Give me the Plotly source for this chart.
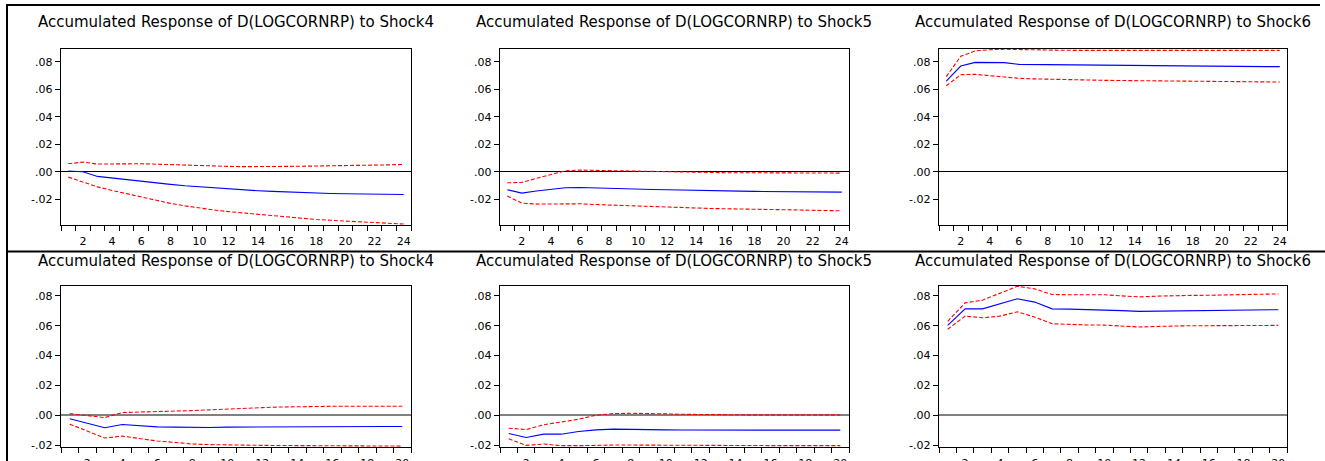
import plotly.graph_objects as go

W, H = 1325, 461

# ---------------- data ----------------
periods_top = list(range(1, 25))
periods_bot = list(range(1, 21))

titles = [
    "Accumulated Response of D(LOGCORNRP) to Shock4",
    "Accumulated Response of D(LOGCORNRP) to Shock5",
    "Accumulated Response of D(LOGCORNRP) to Shock6",
]

# top row (24 periods)
s4_top_resp = [0.0005, 0.0, -0.0034, -0.0046, -0.0058, -0.0073, -0.0083, -0.0092, -0.0102, -0.011, -0.0119, -0.0126,
               -0.0132, -0.0138, -0.0143, -0.0148, -0.0152, -0.0155, -0.0158, -0.016, -0.0161, -0.0162, -0.0164, -0.0165]
s4_top_up = [0.0058, 0.007, 0.0056, 0.0058, 0.0058, 0.0058, 0.0055, 0.0051, 0.0047, 0.0044, 0.0041, 0.0039,
             0.0037, 0.0036, 0.0037, 0.0039, 0.004, 0.0041, 0.0044, 0.0046, 0.0047, 0.0048, 0.005, 0.0053]
s4_top_lo = [-0.0039, -0.0075, -0.011, -0.0136, -0.016, -0.0187, -0.0209, -0.023, -0.0248, -0.0264, -0.0278, -0.029,
             -0.03, -0.031, -0.032, -0.033, -0.0339, -0.0347, -0.0353, -0.0359, -0.0365, -0.037, -0.0375, -0.038]

s5_top_resp = [-0.0131, -0.0155, -0.014, -0.0126, -0.0116, -0.0114, -0.0118, -0.0121, -0.0124, -0.0126, -0.0129, -0.0131,
               -0.0134, -0.0136, -0.0137, -0.0138, -0.0141, -0.0143, -0.0144, -0.0145, -0.0147, -0.0148, -0.0148, -0.0148]
s5_top_up = [-0.008, -0.0078, -0.0048, -0.0019, 0.0007, 0.0012, 0.001, 0.0005, 0.0002, 0.0, -0.0001, -0.0002,
             -0.0004, -0.0005, -0.0006, -0.0007, -0.0007, -0.0007, -0.0009, -0.001, -0.001, -0.001, -0.001, -0.001]
s5_top_lo = [-0.0177, -0.0228, -0.0235, -0.0233, -0.023, -0.0233, -0.0238, -0.0242, -0.0247, -0.0252, -0.0256, -0.0259,
             -0.0262, -0.0264, -0.0267, -0.0269, -0.0272, -0.0274, -0.0275, -0.0276, -0.0278, -0.0279, -0.0282, -0.0284]

s6_top_resp = [0.0659, 0.0768, 0.0795, 0.0795, 0.0793, 0.078, 0.0779, 0.0778, 0.0775, 0.0773, 0.0772, 0.0771,
               0.0769, 0.0768, 0.0767, 0.0766, 0.0766, 0.0766, 0.0765, 0.0764, 0.0764, 0.0764, 0.0764, 0.0764]
s6_top_up = [0.0691, 0.0839, 0.0878, 0.0887, 0.089, 0.0887, 0.0886, 0.0885, 0.0883, 0.0882, 0.0882, 0.0882,
             0.0882, 0.0882, 0.0882, 0.0882, 0.0882, 0.0882, 0.0882, 0.0882, 0.0882, 0.0882, 0.0882, 0.0882]
s6_top_lo = [0.0625, 0.0705, 0.0708, 0.0698, 0.0691, 0.0679, 0.0675, 0.0672, 0.0669, 0.0667, 0.0665, 0.0664,
             0.0663, 0.0662, 0.066, 0.0659, 0.0658, 0.0657, 0.0656, 0.0655, 0.0654, 0.0652, 0.0652, 0.0652]

# bottom row (20 periods)
s4_bot_resp = [-0.0024, -0.0053, -0.0084, -0.0062, -0.0071, -0.0078, -0.008, -0.0082, -0.0082, -0.008,
               -0.0079, -0.0078, -0.0077, -0.0076, -0.0076, -0.0076, -0.0076, -0.0076, -0.0076, -0.0076]
s4_bot_up = [0.0011, 0.0, -0.0016, 0.0018, 0.002, 0.0022, 0.0027, 0.0031, 0.0036, 0.0042,
             0.0047, 0.0051, 0.0055, 0.0058, 0.0059, 0.006, 0.006, 0.006, 0.006, 0.006]
s4_bot_lo = [-0.006, -0.0109, -0.0153, -0.014, -0.0156, -0.0173, -0.0182, -0.0193, -0.0197, -0.02,
             -0.0201, -0.0202, -0.0203, -0.0204, -0.0204, -0.0204, -0.0206, -0.0207, -0.0207, -0.0207]

s5_bot_resp = [-0.0122, -0.0149, -0.0127, -0.0127, -0.0109, -0.0098, -0.0093, -0.0096, -0.0097, -0.0098,
               -0.0099, -0.01, -0.01, -0.01, -0.01, -0.01, -0.01, -0.01, -0.01, -0.01]
s5_bot_up = [-0.0087, -0.0096, -0.0064, -0.0047, -0.0027, 0.0, 0.0011, 0.0013, 0.0013, 0.0009,
             0.0006, 0.0004, 0.0003, 0.0002, 0.0002, 0.0002, 0.0002, 0.0002, 0.0002, 0.0002]
s5_bot_lo = [-0.0158, -0.0202, -0.0193, -0.0204, -0.0204, -0.02, -0.02, -0.02, -0.0201, -0.0202,
             -0.0203, -0.0204, -0.0204, -0.0204, -0.0204, -0.0204, -0.0204, -0.0204, -0.0204, -0.0204]

s6_bot_resp = [0.0602, 0.0713, 0.0713, 0.0744, 0.078, 0.0758, 0.0713, 0.0711, 0.0709, 0.0707,
               0.0701, 0.0696, 0.0698, 0.07, 0.0701, 0.0702, 0.0703, 0.0704, 0.0705, 0.0707]
s6_bot_up = [0.0629, 0.0753, 0.0771, 0.0816, 0.0864, 0.0847, 0.0809, 0.0807, 0.0807, 0.0807,
             0.08, 0.0793, 0.0798, 0.0802, 0.0803, 0.0804, 0.0806, 0.0809, 0.0811, 0.0813]
s6_bot_lo = [0.0576, 0.0664, 0.0653, 0.0664, 0.0693, 0.0658, 0.0613, 0.0607, 0.0605, 0.0604,
             0.0597, 0.0591, 0.0595, 0.06, 0.06, 0.06, 0.0601, 0.0602, 0.0602, 0.0602]

y_tickvals = [-0.02, 0.0, 0.02, 0.04, 0.06, 0.08]
y_ticktext = ["-.02", ".00", ".02", ".04", ".06", ".08"]
x_tickvals_top = [2, 4, 6, 8, 10, 12, 14, 16, 18, 20, 22, 24]
x_tickvals_bot = [2, 4, 6, 8, 10, 12, 14, 16, 18, 20]

# ---------------- layout geometry (pixels) ----------------
cols = [(61, 411), (500, 849), (939, 1287)]
rows = [(49, 225), (286, 447)]
yranges = [(-0.0387, 0.0892), (-0.0213, 0.0866)]

FONT = "DejaVu Sans"

fig = go.Figure()
layout = dict(width=W, height=H, margin=dict(l=0, r=0, t=0, b=0, autoexpand=False),
              paper_bgcolor="white", plot_bgcolor="white", showlegend=False)

panels = [
    (0, 0, periods_top, s4_top_resp, s4_top_up, s4_top_lo, x_tickvals_top, 24),
    (0, 1, periods_top, s5_top_resp, s5_top_up, s5_top_lo, x_tickvals_top, 24),
    (0, 2, periods_top, s6_top_resp, s6_top_up, s6_top_lo, x_tickvals_top, 24),
    (1, 0, periods_bot, s4_bot_resp, s4_bot_up, s4_bot_lo, x_tickvals_bot, 20),
    (1, 1, periods_bot, s5_bot_resp, s5_bot_up, s5_bot_lo, x_tickvals_bot, 20),
    (1, 2, periods_bot, s6_bot_resp, s6_bot_up, s6_bot_lo, x_tickvals_bot, 20),
]

annotations = []
for k, (r, c, xs, resp, up, lo, xt, n) in enumerate(panels):
    idx = k + 1
    xa = "x" if idx == 1 else f"x{idx}"
    ya = "y" if idx == 1 else f"y{idx}"
    x0, x1 = cols[c]
    y0, y1 = rows[r]
    for vals, color, dash in ((up, "#FF0000", "4px,2px"), (lo, "#FF0000", "4px,2px"), (resp, "#0000FF", "solid")):
        fig.add_trace(go.Scatter(x=xs, y=vals, mode="lines", xaxis=xa, yaxis=ya,
                                 line=dict(color=color, width=1.1, dash=dash), hoverinfo="skip"))
    zl_color = "#000000" if r == 0 else "#808080"
    zl_width = 1 if r == 0 else 2
    layout["xaxis" if idx == 1 else f"xaxis{idx}"] = dict(
        domain=[x0 / W, x1 / W], anchor=ya, range=[0.5, n + 0.5], automargin=False,
        showgrid=False, zeroline=False, showline=True, mirror=True,
        linecolor="black", linewidth=1.3,
        tickmode="array", tickvals=xt, ticktext=[str(v) for v in xt],
        ticks="", ticklabelstandoff=5,
        minor=dict(tick0=0.5, dtick=1, ticks="outside", ticklen=5, tickcolor="black", tickwidth=1, showgrid=False),
        tickfont=dict(family=FONT, size=11, color="black"), fixedrange=True)
    layout["yaxis" if idx == 1 else f"yaxis{idx}"] = dict(
        domain=[1 - y1 / H, 1 - y0 / H], anchor=xa, range=list(yranges[r]), automargin=False,
        showgrid=False, zeroline=True, zerolinecolor=zl_color, zerolinewidth=zl_width,
        showline=True, mirror=True, linecolor="black", linewidth=1.3,
        tickmode="array", tickvals=y_tickvals, ticktext=y_ticktext,
        ticks="outside", ticklen=5, tickcolor="black", tickwidth=1,
        tickfont=dict(family=FONT, size=11, color="black"), fixedrange=True)
    ty = 22 if r == 0 else 261
    annotations.append(dict(text=titles[c], xref="paper", yref="paper",
                            x=(x0 + x1) / 2 / W, y=1 - ty / H, xanchor="center", yanchor="middle",
                            showarrow=False, font=dict(family=FONT, size=15, color="black")))

layout["annotations"] = annotations
layout["shapes"] = [
    dict(type="line", xref="paper", yref="paper", x0=6 / W, x1=1320 / W, y0=1 - 5 / H, y1=1 - 5 / H,
         line=dict(color="black", width=2)),
    dict(type="line", xref="paper", yref="paper", x0=7 / W, x1=7 / W, y0=0, y1=1 - 4 / H,
         line=dict(color="black", width=2)),
    dict(type="line", xref="paper", yref="paper", x0=6 / W, x1=1, y0=1 - 251.5 / H, y1=1 - 251.5 / H,
         line=dict(color="black", width=2)),
]
fig.update_layout(**layout)

page_css = ("var s=document.createElement('style');"
            "s.textContent='html,body{margin:0;padding:0;overflow:hidden;}';"
            "document.head.appendChild(s);")
fig.write_html("out.html",
               config={"displayModeBar": False, "staticPlot": True},
               post_script=page_css)
